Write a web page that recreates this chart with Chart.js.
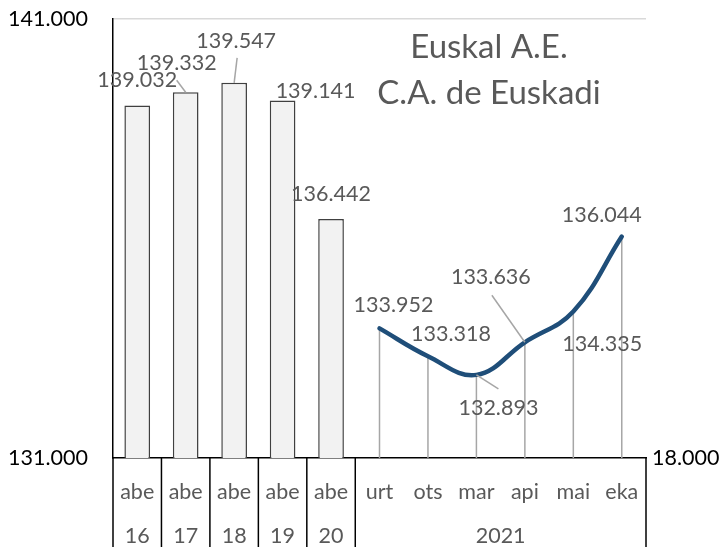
<!DOCTYPE html>
<html>
<head>
<meta charset="utf-8">
<script src="https://cdn.jsdelivr.net/npm/chart.js@4.4.1/dist/chart.umd.min.js"></script>
<style>
  html, body { margin: 0; padding: 0; background: #fff; }
  #wrap { width: 720px; height: 547px; }
</style>
</head>
<body>
<div id="wrap"><canvas id="chart"></canvas></div>
<script>
// data
const categories = ['abe', 'abe', 'abe', 'abe', 'abe', 'urt', 'ots', 'mar', 'api', 'mai', 'eka'];
const yearGroups = ['16', '17', '18', '19', '20', '2021'];
const yearSpans = [1, 1, 1, 1, 1, 6];
const barValues = [139032, 139332, 139547, 139141, 136442, null, null, null, null, null, null];
const lineValues = [null, null, null, null, null, 133952, 133318, 132893, 133636, 134335, 136044];
const leftTicks = [131000, 141000];
const rightTick = 18000;
const titleLines = ['Euskal A.E.', 'C.A. de Euskadi'];

// label placement: offset from the mark, optional leader start
const barLabelPos = [
    { dx: 0, dy: -25 },
    { dx: -9, dy: -29, lead: [-9, -12] },
    { dx: 2, dy: -42, lead: [3, -25] },
    { dx: 33, dy: -10 },
    { dx: 0, dy: -25 }
];
const lineLabelPos = [
    { dx: 14, dy: -23 },
    { dx: 23, dy: -22 },
    { dx: 22, dy: 33, lead: [22, 14] },
    { dx: -34, dy: -65, lead: [-33, -47] },
    { dx: 29, dy: 32 },
    { dx: -20, dy: -22 }
];

const FONT = 'Lato, "Open Sans", sans-serif';
const fmt = v => String(v).replace(/\B(?=(\d{3})+(?!\d))/g, '.');

const dropLines = {
    id: 'dropLines',
    beforeDatasetsDraw(chart) {
        const ctx = chart.ctx;
        const bottom = chart.chartArea.bottom;
        ctx.save();
        ctx.strokeStyle = '#a6a6a6';
        ctx.lineWidth = 1.5;
        chart.getDatasetMeta(1).data.forEach((pt, i) => {
            if (lineValues[i] == null) return;
            ctx.beginPath();
            ctx.moveTo(pt.x, pt.y);
            ctx.lineTo(pt.x, bottom);
            ctx.stroke();
        });
        ctx.restore();
    }
};

const valueLabels = {
    id: 'valueLabels',
    afterDatasetsDraw(chart) {
        const ctx = chart.ctx;
        ctx.save();
        ctx.font = '21.5px ' + FONT;
        ctx.fillStyle = '#595959';
        ctx.textAlign = 'center';
        ctx.textBaseline = 'middle';
        const sets = [[barValues, barLabelPos, 0], [lineValues, lineLabelPos, 1]];
        sets.forEach(([vals, pos, di]) => {
            const meta = chart.getDatasetMeta(di);
            let k = 0;
            vals.forEach((v, i) => {
                if (v == null) return;
                const el = meta.data[i];
                const p = pos[k++];
                if (p.lead) {
                    ctx.strokeStyle = '#a6a6a6';
                    ctx.lineWidth = 1.5;
                    ctx.beginPath();
                    ctx.moveTo(el.x + p.lead[0], el.y + p.lead[1]);
                    ctx.lineTo(el.x, el.y);
                    ctx.stroke();
                }
                ctx.fillText(fmt(v), el.x + p.dx, el.y + p.dy);
            });
        });
        ctx.restore();
    }
};

const axisAndTitle = {
    id: 'axisAndTitle',
    afterDraw(chart) {
        const ctx = chart.ctx;
        const area = chart.chartArea;
        const x = chart.scales.x;
        const step = (area.right - area.left) / categories.length;
        const H = chart.height;
        ctx.save();
        // group separators
        ctx.strokeStyle = '#000';
        ctx.lineWidth = 1.5;
        let idx = 0;
        const edges = [0];
        yearSpans.forEach(s => { idx += s; edges.push(idx); });
        edges.forEach(e => {
            const px = area.left + e * step;
            ctx.beginPath();
            ctx.moveTo(px, area.bottom);
            ctx.lineTo(px, H);
            ctx.stroke();
        });
        // category and year labels
        ctx.font = '21.5px ' + FONT;
        ctx.fillStyle = '#595959';
        ctx.textAlign = 'center';
        ctx.textBaseline = 'middle';
        categories.forEach((c, i) => {
            ctx.fillText(c, x.getPixelForValue(i), area.bottom + 34);
        });
        yearGroups.forEach((y, g) => {
            const mid = area.left + (edges[g] + edges[g + 1]) / 2 * step;
            ctx.fillText(y, mid, area.bottom + 78);
        });
        // title inside the plot
        ctx.font = '33px ' + FONT;
        const tx = area.right - 157;
        ctx.fillText(titleLines[0], tx, area.top + 28);
        ctx.fillText(titleLines[1], tx, area.top + 74);
        ctx.restore();
    }
};

function noEdgePadding(scale, width) {
    scale.width = width;
    scale.paddingTop = 0;
    scale.paddingBottom = 0;
}

new Chart(document.getElementById('chart'), {
    data: {
        labels: categories,
        datasets: [
            {
                type: 'bar',
                data: barValues,
                backgroundColor: '#f2f2f2',
                borderColor: '#404040',
                borderWidth: 1.5,
                categoryPercentage: 1,
                barPercentage: 0.53,
                yAxisID: 'y',
                order: 2
            },
            {
                type: 'line',
                data: lineValues,
                borderColor: '#1f4e79',
                borderWidth: 4.5,
                borderCapStyle: 'round',
                tension: 0.4,
                pointRadius: 0,
                fill: false,
                yAxisID: 'y',
                order: 1
            }
        ]
    },
    options: {
        responsive: true,
        maintainAspectRatio: false,
        animation: false,
        layout: { padding: { top: 19, left: 0, right: 0, bottom: 0 } },
        plugins: {
            legend: { display: false },
            tooltip: { enabled: false }
        },
        scales: {
            x: {
                offset: true,
                grid: { display: false },
                border: { color: '#000', width: 1.5 },
                ticks: { display: false },
                afterFit(scale) { scale.height = 89; }
            },
            y: {
                position: 'left',
                min: leftTicks[0],
                max: leftTicks[1],
                afterBuildTicks(scale) { scale.ticks = leftTicks.map(v => ({ value: v })); },
                ticks: {
                    color: '#000',
                    padding: 25,
                    font: { family: FONT, size: 21.5 },
                    callback: v => fmt(v)
                },
                grid: {
                    drawTicks: false,
                    color: c => c.tick && c.tick.value === leftTicks[1] ? '#d9d9d9' : 'rgba(0,0,0,0)',
                    lineWidth: 1.5
                },
                border: { color: '#000', width: 1.5 },
                afterFit(scale) { noEdgePadding(scale, 113); }
            },
            y2: {
                position: 'right',
                min: rightTick,
                max: rightTick + 10000,
                afterBuildTicks(scale) { scale.ticks = [{ value: rightTick }]; },
                ticks: {
                    color: '#000',
                    padding: 6,
                    font: { family: FONT, size: 21.5 },
                    callback: v => fmt(v)
                },
                grid: { display: false, drawTicks: false },
                border: { display: false },
                afterFit(scale) { noEdgePadding(scale, 74); }
            }
        }
    },
    plugins: [dropLines, valueLabels, axisAndTitle]
});
</script>
</body>
</html>
